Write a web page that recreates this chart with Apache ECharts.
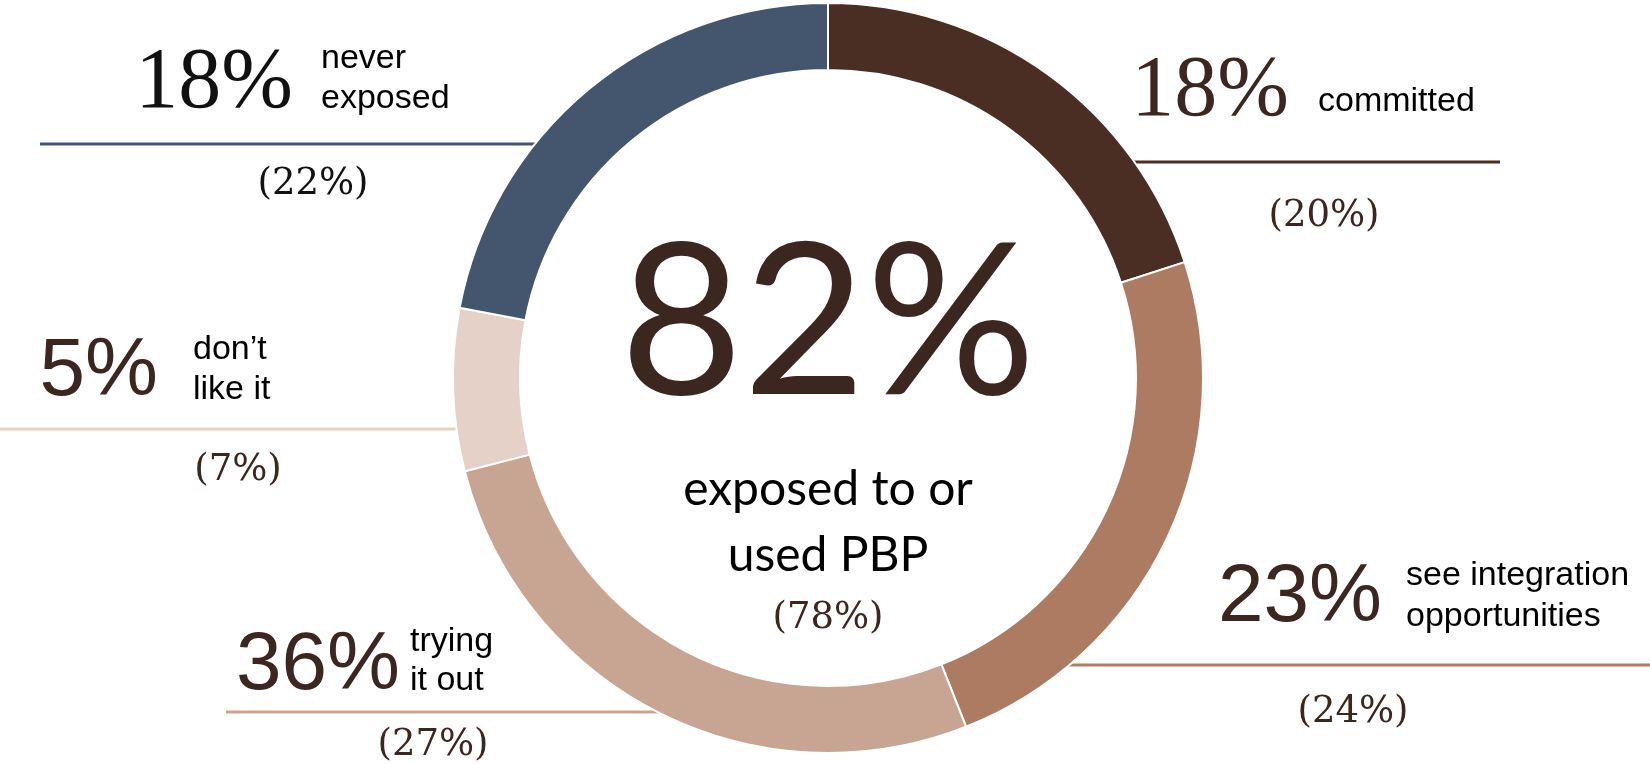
<!DOCTYPE html>
<html>
<head>
<meta charset="utf-8">
<title>PBP exposure</title>
<script src="https://cdn.jsdelivr.net/npm/echarts@6/dist/echarts.min.js"></script>
<style>
  html, body { margin: 0; padding: 0; background: #ffffff; }
  #chart { width: 1650px; height: 764px; }
</style>
</head>
<body>
<div id="chart"></div>
<script>
// Segments, clockwise from 12 o'clock
const categories = ['committed', 'see integration opportunities', 'trying it out', 'don\u2019t like it', 'never exposed'];
const descriptions = ['committed', 'see integration\nopportunities', 'trying\nit out', 'don\u2019t\nlike it', 'never\nexposed'];
const currentShare = [18, 23, 36, 5, 18];   // headline figures
const priorShare = [20, 24, 27, 7, 22];     // figures in parentheses (ring segments)
const exposedTotal = 82;
const priorExposedTotal = 78;
const centerCaption = 'exposed to or\nused PBP';
const segmentColors = ['#4a2e23', '#ad7a62', '#c8a593', '#e5d1c8', '#44566e'];

// Ring geometry
const CX = 828, CY = 378, R_IN = 308, R_OUT = 375;

const DARK = '#3b2620';
const SERIF = '"Liberation Serif", "DejaVu Serif", serif';
const SERIF_SMALL = '"DejaVu Serif", "Liberation Serif", serif';
const SANS = '"Liberation Sans", Arial, sans-serif';

// Annotation placement per segment: headline number, description, rule, parenthetical
const annotations = [
  { numRight: 1289, numY: 92, numFont: SERIF, numColor: DARK, descX: 1318, descY: 102, descLH: 40,
    ruleY: 162, ruleFar: 1500, ruleColor: '#4a2e23', priorX: 1324, priorY: 216, priorColor: DARK },
  { numRight: 1382, numY: 598, numFont: SANS, numColor: DARK, descX: 1406, descY: 596, descLH: 41,
    ruleY: 665, ruleFar: 1650, ruleColor: '#b07e66', priorX: 1353, priorY: 712, priorColor: DARK },
  { numRight: 400, numY: 666, numFont: SANS, numColor: DARK, descX: 410, descY: 661, descLH: 39,
    ruleY: 712, ruleFar: 226, ruleColor: '#c8a593', priorX: 433, priorY: 745, priorColor: DARK },
  { numRight: 158, numY: 372, numFont: SANS, numColor: DARK, descX: 193, descY: 370, descLH: 40,
    ruleY: 429, ruleFar: 0, ruleColor: '#e5d1c8', priorX: 238, priorY: 470, priorColor: DARK },
  { numRight: 293, numY: 84, numFont: SERIF, numColor: '#111111', descX: 321, descY: 79, descLH: 40,
    ruleY: 144, ruleFar: 40, ruleColor: '#44566e', priorX: 313, priorY: 184, priorColor: '#111111' }
];

const graphics = [];
annotations.forEach(function (a, i) {
  const dy = a.ruleY - CY;
  const side = a.ruleFar > CX ? 1 : -1;
  const edge = CX + side * (Math.sqrt(R_OUT * R_OUT - dy * dy) - 12);
  graphics.push({
    type: 'line', z: 0,
    shape: { x1: a.ruleFar, y1: a.ruleY, x2: edge, y2: a.ruleY },
    style: { stroke: a.ruleColor, lineWidth: 3 }
  });
  graphics.push({
    type: 'text', z: 10, x: a.numRight, y: a.numY,
    style: { text: currentShare[i] + '%', font: (a.numFont === SERIF ? '86px ' : '82px ') + a.numFont,
      fill: a.numColor, textAlign: 'right', textVerticalAlign: 'middle' }
  });
  graphics.push({
    type: 'text', z: 10, x: a.descX, y: a.descY,
    style: { text: descriptions[i], font: '34px ' + SANS, lineHeight: a.descLH,
      fill: '#000000', textAlign: 'left', textVerticalAlign: 'middle' }
  });
  graphics.push({
    type: 'text', z: 10, x: a.priorX, y: a.priorY,
    style: { text: '(' + priorShare[i] + '%)', font: '37px ' + SERIF_SMALL,
      fill: a.priorColor, textAlign: 'center', textVerticalAlign: 'middle' }
  });
});

// Centre of the ring
graphics.push({
  type: 'text', z: 10, x: CX, y: 326,
  style: { text: exposedTotal + '%', font: '212px Lato, "Open Sans", sans-serif', fill: DARK,
    textAlign: 'center', textVerticalAlign: 'middle' }
});
graphics.push({
  type: 'text', z: 10, x: CX, y: 523,
  style: { text: centerCaption, font: '48px Lato, "Open Sans", sans-serif', lineHeight: 66, fill: '#000000',
    textAlign: 'center', textVerticalAlign: 'middle' }
});
graphics.push({
  type: 'text', z: 10, x: CX, y: 618,
  style: { text: '(' + priorExposedTotal + '%)', font: '37px ' + SERIF_SMALL, fill: DARK,
    textAlign: 'center', textVerticalAlign: 'middle' }
});

const chart = echarts.init(document.getElementById('chart'), null, { renderer: 'canvas' });
chart.setOption({
  backgroundColor: '#ffffff',
  animation: false,
  series: [{
    type: 'pie',
    z: 2,
    center: [CX, CY],
    radius: [R_IN, R_OUT],
    startAngle: 90,
    clockwise: true,
    silent: true,
    label: { show: false },
    labelLine: { show: false },
    itemStyle: { borderColor: '#ffffff', borderWidth: 2 },
    data: categories.map(function (name, i) {
      return { name: name, value: priorShare[i], itemStyle: { color: segmentColors[i] } };
    })
  }],
  graphic: { elements: graphics }
});
</script>
</body>
</html>
